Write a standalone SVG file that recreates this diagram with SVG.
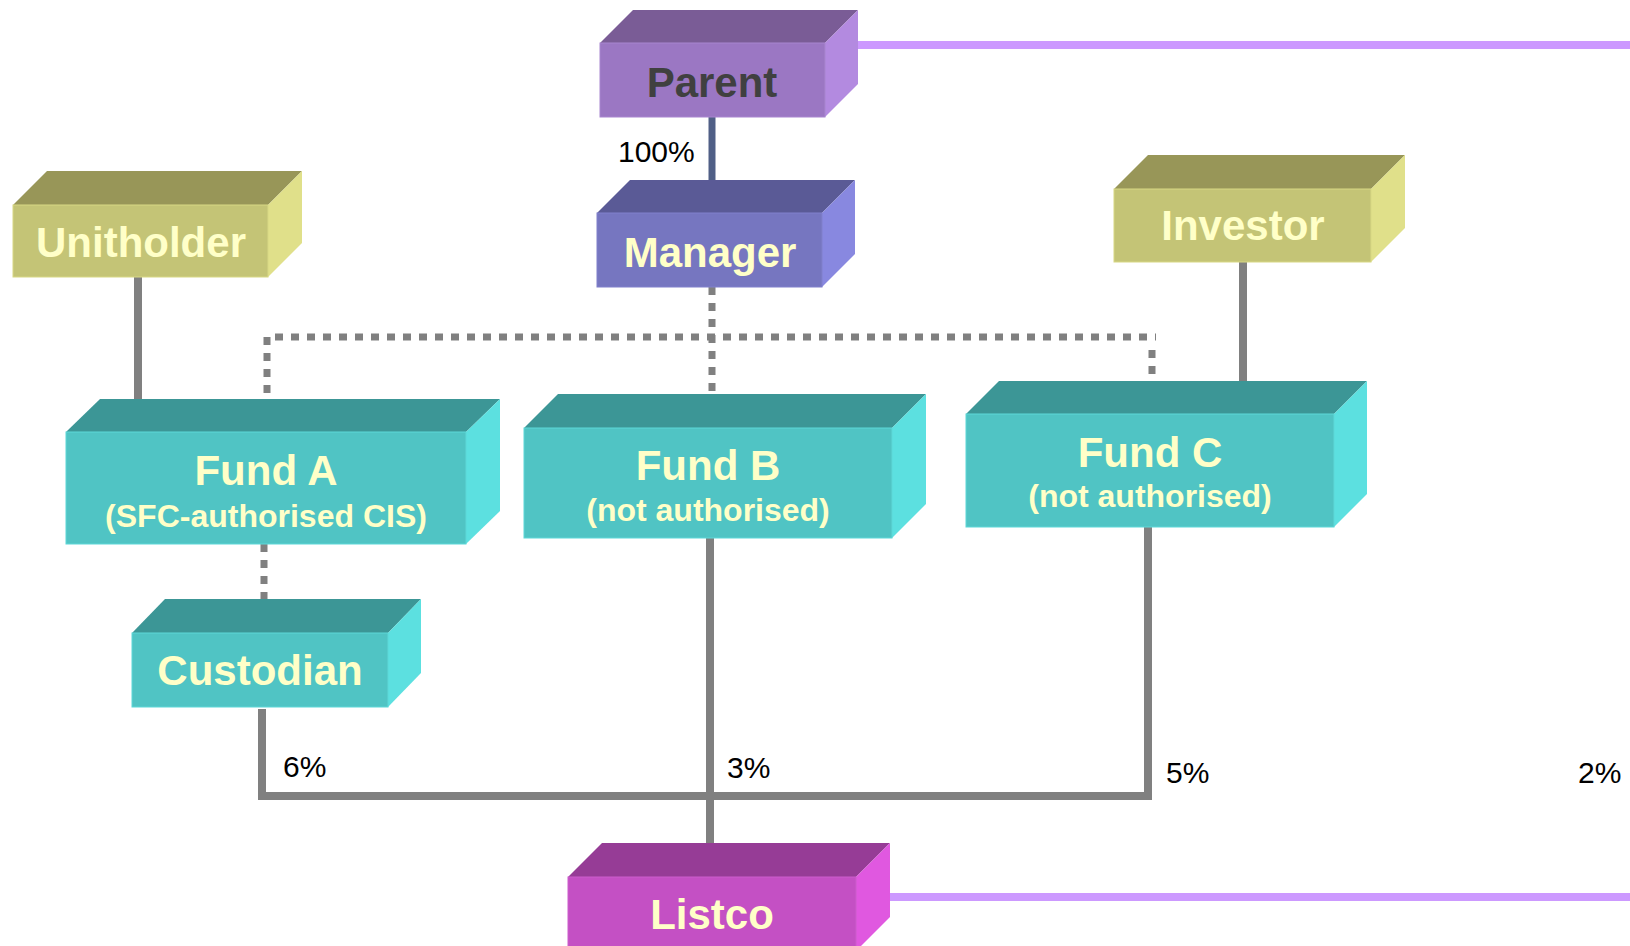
<svg xmlns="http://www.w3.org/2000/svg" width="1630" height="946" viewBox="0 0 1630 946">
<style>
.lbl{font-family:"Liberation Sans",Arial,sans-serif;font-weight:bold;font-size:42px;fill:#ffffc8;text-anchor:middle}
.sub{font-size:32px}
.pct{font-family:"Liberation Sans",Arial,sans-serif;font-size:30px;fill:#000}
.solid{fill:none;stroke:#808080;stroke-width:8;stroke-linejoin:miter}
.dot{fill:none;stroke:#808080;stroke-width:7;stroke-dasharray:8 8}
.link{fill:none;stroke:#cc99ff;stroke-width:8}
.ylw .top{fill:#989658}.ylw .side{fill:#e0e08a}.ylw .front{fill:#c4c476;stroke:#d8d884;stroke-width:1}
.teal .top{fill:#3c9696}.teal .side{fill:#5ce0e0}.teal .front{fill:#50c4c4;stroke:#5cd8d8;stroke-width:1}
</style>
<rect width="1630" height="946" fill="#ffffff"/>
<g id="connectors">
<path class="link" d="M858,45 H1630"/>
<path class="link" d="M890,897 H1630"/>
<path d="M712,117 V180" fill="none" stroke="#505f86" stroke-width="7"/>
<path class="solid" d="M138,277 V403"/>
<path class="solid" d="M1243,262 V381"/>
<path class="solid" d="M710,538 V843"/>
<path class="solid" d="M262,709 V796 H1148 V527"/>
<path class="dot" d="M712,287 V394"/>
<path class="dot" d="M267,393 V337 H1156"/>
<path class="dot" d="M1152,350 V376"/>
<path class="dot" d="M264,544 V599"/>
</g>
<g id="parent">
<polygon points="600,43 633,10 858,10 825,43" fill="#7a5c96"/>
<polygon points="825,43 858,10 858,84 825,117" fill="#b38ae0"/>
<rect x="600" y="43" width="225" height="74" fill="#9b77c3" stroke="#a886cf" stroke-width="1"/>
<text class="lbl" x="712" y="97" style="fill:#404040">Parent</text>
</g>
<g id="manager">
<polygon points="597,213 630,180 855,180 822,213" fill="#5a5a96"/>
<polygon points="822,213 855,180 855,254 822,287" fill="#8888e0"/>
<rect x="597" y="213" width="225" height="74" fill="#7676c0" stroke="#8080cc" stroke-width="1"/>
<text class="lbl" x="710" y="267">Manager</text>
</g>
<g id="unitholder" class="ylw">
<polygon class="top" points="13,205 47,171 302,171 268,205"/>
<polygon class="side" points="268,205 302,171 302,243 268,277"/>
<rect class="front" x="13" y="205" width="255" height="72"/>
<text class="lbl" x="141" y="257">Unitholder</text>
</g>
<g id="investor" class="ylw">
<polygon class="top" points="1114,189 1148,155 1405,155 1371,189"/>
<polygon class="side" points="1371,189 1405,155 1405,228 1371,262"/>
<rect class="front" x="1114" y="189" width="257" height="73"/>
<text class="lbl" x="1243" y="240">Investor</text>
</g>
<g id="fundA" class="teal">
<polygon class="top" points="66,432 100,399 500,399 466,432"/>
<polygon class="side" points="466,432 500,399 500,511 466,544"/>
<rect class="front" x="66" y="432" width="400" height="112"/>
<text class="lbl" x="266" y="485">Fund A</text>
<text class="lbl sub" x="266" y="527">(SFC-authorised CIS)</text>
</g>
<g id="fundB" class="teal">
<polygon class="top" points="524,428 558,394 926,394 892,428"/>
<polygon class="side" points="892,428 926,394 926,504 892,538"/>
<rect class="front" x="524" y="428" width="368" height="110"/>
<text class="lbl" x="708" y="480">Fund B</text>
<text class="lbl sub" x="708" y="521">(not authorised)</text>
</g>
<g id="fundC" class="teal">
<polygon class="top" points="966,414 999,381 1367,381 1334,414"/>
<polygon class="side" points="1334,414 1367,381 1367,494 1334,527"/>
<rect class="front" x="966" y="414" width="368" height="113"/>
<text class="lbl" x="1150" y="467">Fund C</text>
<text class="lbl sub" x="1150" y="507">(not authorised)</text>
</g>
<g id="custodian" class="teal">
<polygon class="top" points="132,633 165,599 421,599 388,633"/>
<polygon class="side" points="388,633 421,599 421,673 388,707"/>
<rect class="front" x="132" y="633" width="256" height="74"/>
<text class="lbl" x="260" y="685">Custodian</text>
</g>
<g id="listco">
<polygon points="568,877 602,843 890,843 856,877" fill="#963c96"/>
<polygon points="856,877 890,843 890,917 856,951" fill="#e058e0"/>
<rect x="568" y="877" width="288" height="74" fill="#c450c4" stroke="#cc5ccc" stroke-width="1"/>
<text class="lbl" x="712" y="929">Listco</text>
</g>
<g id="labels">
<text class="pct" x="618" y="162">100%</text>
<text class="pct" x="283" y="777">6%</text>
<text class="pct" x="727" y="778">3%</text>
<text class="pct" x="1166" y="783">5%</text>
<text class="pct" x="1578" y="783">2%</text>
</g>
</svg>
